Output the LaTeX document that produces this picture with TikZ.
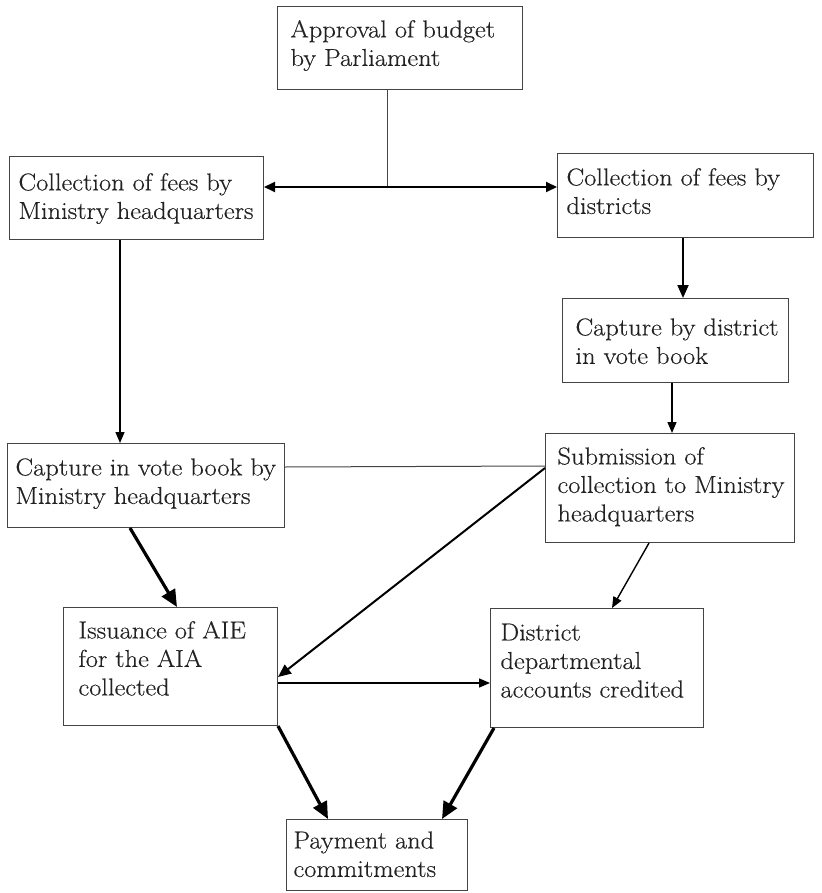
\documentclass[tikz,border=0pt]{standalone}
\usepackage{fontspec}
\setmainfont{Latin Modern Roman}[FakeStretch=1.08, FakeBold=0.4]
\usetikzlibrary{arrows.meta}
\definecolor{ink}{HTML}{222222}
\definecolor{edge}{HTML}{444444}
\newcommand{\bxt}[5]{\parbox[c][#2pt][t]{#1pt}{\vspace*{#4pt}\raggedright\leftskip=#3pt\relax\strut #5}}
\tikzset{
  box/.style={draw=edge, line width=1pt, rectangle, inner sep=0pt, anchor=north west,
    font=\fontsize{24.5}{28.5}\selectfont, text=ink},
  thinarr/.style={line width=1.4pt, -{Triangle[length=11pt,width=9pt]}},
  medarr/.style={line width=2pt, -{Triangle[length=13pt,width=11pt]}},
  thickarr/.style={line width=3.2pt, -{Triangle[length=17pt,width=15pt]}},
  plainline/.style={line width=1pt, draw=edge},
}
\begin{document}
\begin{tikzpicture}[x=1pt,y=-1pt]
\useasboundingbox (0,0) rectangle (821,893);
% boxes
\node[box] (b1) at (277,6)   {\bxt{245}{83}{13}{11}{Approval of budget\\by Parliament}};
\node[box] (b2) at (9,156)   {\bxt{254}{83}{9}{14}{Collection of fees by\\Ministry headquarters}};
\node[box] (b3) at (557,153) {\bxt{256}{84}{9}{12}{Collection of fees by\\districts}};
\node[box] (b4) at (562,298) {\bxt{226}{84}{13}{17}{Capture by district\\in vote book}};
\node[box] (b5) at (7,443)   {\bxt{277}{84}{8}{12}{Capture in vote book by\\Ministry headquarters}};
\node[box] (b6) at (545,433) {\bxt{249}{109}{12}{11}{Submission of\\collection to Ministry\\headquarters}};
\node[box] (b7) at (63,607)  {\bxt{214}{118}{15}{11}{Issuance of AIE\\for the AIA\\collected}};
\node[box] (b8) at (490,608) {\bxt{213}{119}{10}{12}{District\\departmental\\accounts credited}};
\node[box] (b9) at (286,819) {\bxt{181}{71}{7}{9}{Payment and\\commitments}};
% connectors
\coordinate (j) at (387,187);
\draw[plainline] ([xshift=110pt]b1.south west) -- (j);
\draw[line width=2pt, {Triangle[length=11pt,width=10pt]}-{Triangle[length=11pt,width=10pt]}] (j -| b2.east) -- (j -| b3.west);
\draw[thinarr] ([xshift=111pt]b2.south west) -- ([xshift=113pt]b5.north west);
\draw[medarr] ([xshift=126pt]b3.south west) -- ([xshift=121pt]b4.north west);
\draw[thinarr] ([xshift=110pt]b4.south west) -- ([xshift=127pt]b6.north west);
\draw[plainline] ([yshift=-24pt]b5.north east) -- ([yshift=-33pt]b6.north west);
\draw[medarr] ([yshift=-35pt]b6.north west) -- ([yshift=-70pt]b7.north east);
\draw[thinarr] ([xshift=104pt]b6.south west) -- ([xshift=122pt]b8.north west);
\draw[thickarr] ([xshift=123pt]b5.south west) -- ([xshift=114pt]b7.north west);
\draw[thinarr] ([yshift=-76pt]b7.north east) -- ([yshift=-75pt]b8.north west);
\draw[thickarr] (b7.south east) -- ([xshift=42pt]b9.north west);
\draw[thickarr] ([xshift=4pt]b8.south west) -- ([xshift=156pt]b9.north west);
\end{tikzpicture}
\end{document}
